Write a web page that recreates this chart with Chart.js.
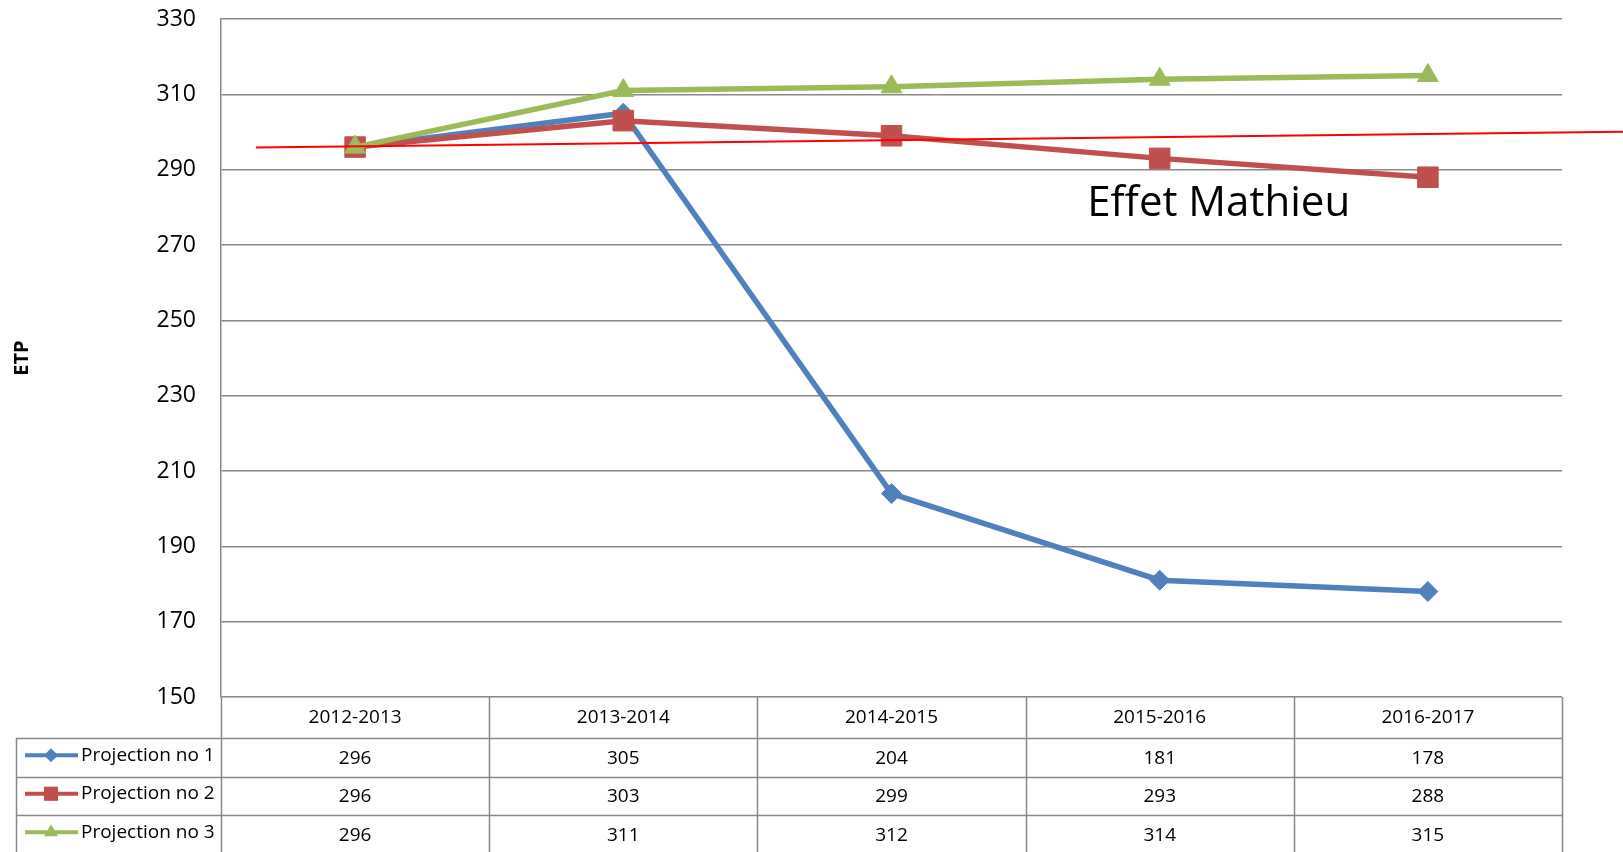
<!DOCTYPE html>
<html>
<head>
<meta charset="utf-8">
<script src="https://cdn.jsdelivr.net/npm/chart.js@4/dist/chart.umd.min.js"></script>
<style>
  html, body { margin: 0; padding: 0; background: #fff; }
  #wrap { width: 1623px; height: 852px; }
</style>
</head>
<body>
<div id="wrap"><canvas id="chart" width="1623" height="852"></canvas></div>
<script>
var years = ['2012-2013', '2013-2014', '2014-2015', '2015-2016', '2016-2017'];
var seriesNames = ['Projection no 1', 'Projection no 2', 'Projection no 3'];
var proj1 = [296, 305, 204, 181, 178];
var proj2 = [296, 303, 299, 293, 288];
var proj3 = [296, 311, 312, 314, 315];
var yTicks = [150, 170, 190, 210, 230, 250, 270, 290, 310, 330];
// trend line "Effet Mathieu": [category index, value] at both ends
var trendStart = [-0.37, 295.9];
var trendEnd = [4.73, 300.1];
var noteText = 'Effet Mathieu';
var notePos = [2.73, 281];

var colors = ['#4F81BD', '#C0504D', '#9BBB59'];
var shapes = ['rectRot', 'rect', 'triangle'];
var gridGray = '#888888';
var font = "'Open Sans', 'Noto Sans', sans-serif";

// trend line + annotation, drawn on top of the series
var trendPlugin = {
  id: 'trend',
  afterDatasetsDraw: function(chart) {
    var ctx = chart.ctx, x = chart.scales.x, y = chart.scales.y;
    ctx.save();
    ctx.strokeStyle = '#FF0000';
    ctx.lineWidth = 2;
    ctx.beginPath();
    ctx.moveTo(x.getPixelForValue(trendStart[0]), y.getPixelForValue(trendStart[1]));
    ctx.lineTo(x.getPixelForValue(trendEnd[0]), y.getPixelForValue(trendEnd[1]));
    ctx.stroke();
    ctx.fillStyle = '#000';
    ctx.font = '42px ' + font;
    ctx.textBaseline = 'middle';
    ctx.textAlign = 'left';
    ctx.fillText(noteText, x.getPixelForValue(notePos[0]), y.getPixelForValue(notePos[1]));
    ctx.restore();
  }
};

// data table under the plot
var tablePlugin = {
  id: 'dataTable',
  afterDraw: function(chart) {
    var ctx = chart.ctx, x = chart.scales.x, area = chart.chartArea;
    var colW = (area.right - area.left) / years.length;
    var top = area.bottom;
    var headH = 41, rowH = 38.5;
    var legendLeft = 16;
    var bottom = chart.height;
    ctx.save();
    ctx.strokeStyle = gridGray;
    ctx.lineWidth = 1.5;
    ctx.beginPath();
    for (var k = 0; k <= years.length; k++) {
      var vx = Math.round(area.left + k * colW) + 0.5;
      ctx.moveTo(vx, top);
      ctx.lineTo(vx, bottom);
    }
    ctx.moveTo(legendLeft + 0.5, top + headH);
    ctx.lineTo(legendLeft + 0.5, bottom);
    for (var r = 0; r < seriesNames.length; r++) {
      var hy = Math.round(top + headH + r * rowH) + 0.5;
      ctx.moveTo(legendLeft, hy);
      ctx.lineTo(area.right, hy);
    }
    ctx.stroke();

    ctx.fillStyle = '#000';
    ctx.font = '19px ' + font;
    ctx.textAlign = 'center';
    ctx.textBaseline = 'middle';
    years.forEach(function(lab, i) {
      ctx.fillText(lab, x.getPixelForValue(i), top + headH / 2);
    });
    var rows = [proj1, proj2, proj3];
    rows.forEach(function(vals, r) {
      var cy = top + headH + r * rowH + rowH / 2 + 1;
      ctx.fillStyle = '#000';
      ctx.textAlign = 'center';
      vals.forEach(function(v, i) {
        ctx.fillText(String(v), x.getPixelForValue(i), cy);
      });
      // legend key
      var ly = cy - 3;
      ctx.strokeStyle = colors[r];
      ctx.lineWidth = 4;
      ctx.beginPath();
      ctx.moveTo(25, ly);
      ctx.lineTo(78, ly);
      ctx.stroke();
      ctx.fillStyle = colors[r];
      Chart.helpers.drawPoint(ctx, {
        pointStyle: shapes[r],
        radius: [7, 10, 8][r],
        rotation: 0,
        borderWidth: 0
      }, 51, ly);
      ctx.fillStyle = '#000';
      ctx.textAlign = 'left';
      ctx.fillText(seriesNames[r], 81, ly);
    });
    ctx.restore();
  }
};

function makeSet(i, data, radius, order) {
  return {
    label: seriesNames[i],
    data: data,
    borderColor: colors[i],
    backgroundColor: colors[i],
    borderWidth: 5.5,
    pointStyle: shapes[i],
    pointRadius: radius,
    pointHoverRadius: radius,
    pointBorderWidth: 1,
    tension: 0,
    order: order
  };
}

new Chart(document.getElementById('chart'), {
  type: 'line',
  data: {
    labels: years,
    datasets: [
      makeSet(0, proj1, 10, 3),
      makeSet(1, proj2, 14.5, 2),
      makeSet(2, proj3, 12, 1)
    ]
  },
  options: {
    responsive: false,
    animation: false,
    clip: false,
    layout: { padding: { top: 19, bottom: 155, right: 61, left: 0 } },
    plugins: { legend: { display: false }, tooltip: { enabled: false } },
    scales: {
      x: {
        type: 'category',
        offset: true,
        display: false
      },
      y: {
        min: 150,
        max: 330,
        afterBuildTicks: function(scale) {
          scale.ticks = yTicks.map(function(v) { return { value: v }; });
        },
        afterFit: function(scale) {
          scale.width = 221;
          scale.paddingTop = 0;
          scale.paddingBottom = 0;
        },
        grid: { color: gridGray, lineWidth: 1.5, drawTicks: false },
        border: { color: gridGray, width: 1.5 },
        ticks: {
          padding: 25,
          color: '#000',
          font: { family: font, size: 23 }
        },
        title: {
          display: true,
          text: 'ETP',
          color: '#000',
          font: { family: font, size: 20, weight: 'bold' },
          padding: { top: 10, bottom: 0 }
        }
      }
    }
  },
  plugins: [trendPlugin, tablePlugin]
});
</script>
</body>
</html>
